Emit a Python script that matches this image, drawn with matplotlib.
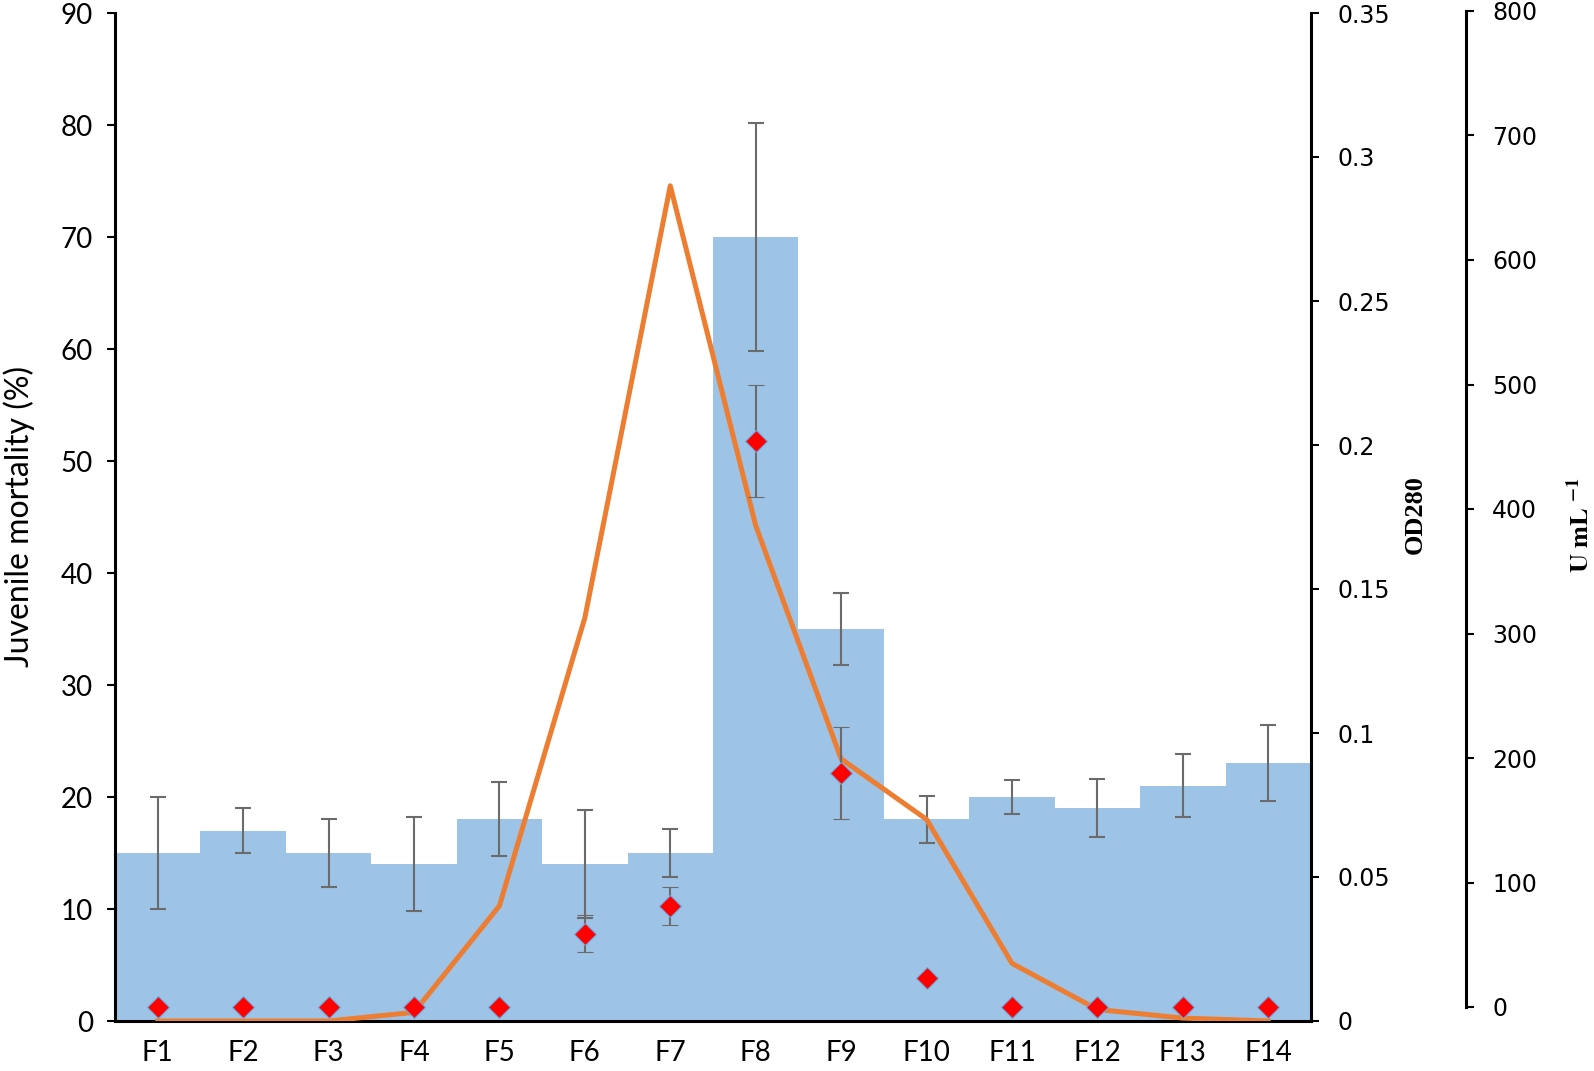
import numpy as np
import matplotlib.pyplot as plt
from matplotlib.ticker import FuncFormatter

# data
fractions = ["F1", "F2", "F3", "F4", "F5", "F6", "F7",
             "F8", "F9", "F10", "F11", "F12", "F13", "F14"]
mortality = [15, 17, 15, 14, 18, 14, 15, 70, 35, 18, 20, 19, 21, 23]
mortality_err = [5, 2, 3, 4.2, 3.3, 4.8, 2.1, 10.2, 3.2, 2.1, 1.5, 2.6, 2.8, 3.4]
od280 = [0, 0, 0, 0.003, 0.04, 0.14, 0.29, 0.172, 0.091, 0.07, 0.02, 0.004, 0.001, 0]
activity = [0, 0, 0, 0, 0, 59, 81, 455, 188, 23, 0, 0, 0, 0]
activity_err = [0, 0, 0, 0, 0, 15, 15, 45, 37, 0, 0, 0, 0, 0]

W, H = 1594, 1071
SPINE_W = 2.2
TICK_LEN = 5.8
TICK_W = 1.5

plt.rcParams["mathtext.fontset"] = "stix"
fig = plt.figure(figsize=(W / 100, H / 100), dpi=100)

# main axes (pixel box: x 115..1311, y 13..1021)
ax = fig.add_axes([115 / W, 1 - 1021 / H, 1196 / W, 1008 / H])
x = np.arange(len(fractions))

ax.bar(x, mortality, width=1.0, color="#9DC3E6", zorder=1)
ax.errorbar(x, mortality, yerr=mortality_err, fmt="none", ecolor="#6B6B6B",
            elinewidth=1.5, capsize=6, capthick=1.5, zorder=2)
ax.set_xlim(-0.5, len(fractions) - 0.5)
ax.set_ylim(0, 90)
ax.set_yticks(np.arange(0, 91, 10))
ax.set_xticks(x)
ax.set_xticklabels(fractions, fontfamily="Lato", fontsize=20)
for lab in ax.get_yticklabels():
    lab.set_fontfamily("Lato")
    lab.set_fontsize(20)
ax.tick_params(axis="y", direction="out", length=TICK_LEN, width=TICK_W, pad=10)
ax.tick_params(axis="x", length=0, pad=14)
for s in ["top", "right"]:
    ax.spines[s].set_visible(False)
for s in ["left", "bottom"]:
    ax.spines[s].set_linewidth(SPINE_W)

# OD280 axis
ax2 = ax.twinx()
ax2.plot(x, od280, color="#ED7D31", linewidth=3.6, zorder=3)
ax2.set_ylim(0, 0.35)
ax2.set_yticks(np.arange(0, 0.351, 0.05))
ax2.yaxis.set_major_formatter(FuncFormatter(lambda v, p: "%g" % round(v, 2)))
for s in ["top", "left", "bottom"]:
    ax2.spines[s].set_visible(False)
ax2.spines["right"].set_linewidth(SPINE_W)
ax2.tick_params(axis="y", direction="out", length=TICK_LEN, width=TICK_W, pad=13,
                labelsize=17)

# U mL-1 axis (slightly shorter box, spine moved out to the right)
ax3 = fig.add_axes([115 / W, 1 - 1007 / H, 1196 / W, 996 / H])
ax3.patch.set_visible(False)
eb = ax3.errorbar(x, activity, yerr=activity_err, fmt="D", color="#FF0000",
                  markersize=11, markeredgecolor="#6FA8DC", markeredgewidth=0.8,
                  ecolor="#6B6B6B", elinewidth=1.5, capsize=6, capthick=1.5, zorder=4)
eb[0].set_clip_on(False)
for art in eb[1]:
    art.set_clip_on(False)
ax3.set_xlim(-0.5, len(fractions) - 0.5)
ax3.set_ylim(0, 800)
ax3.set_yticks(np.arange(0, 801, 100))
ax3.xaxis.set_visible(False)
ax3.yaxis.tick_right()
for s in ["top", "left", "bottom"]:
    ax3.spines[s].set_visible(False)
ax3.spines["right"].set_position(("axes", (1466 - 115) / 1196))
ax3.spines["right"].set_linewidth(SPINE_W)
ax3.tick_params(axis="y", direction="out", length=TICK_LEN, width=TICK_W, pad=13,
                labelsize=17)

# axis titles
fig.text(19.5 / W, 1 - 516 / H, "Juvenile mortality (%)", rotation=90,
         ha="center", va="center", fontfamily="Lato", fontsize=23)
fig.text(1415 / W, 1 - 515 / H, "OD280", rotation=90, ha="center", va="center",
         fontfamily="Liberation Serif", fontweight="bold", fontsize=19)
fig.text(1581 / W, 1 - 525 / H, r"$\mathbf{U\ mL\ ^{-1}}$", rotation=90,
         ha="center", va="center", fontsize=19)

fig.savefig("out.png", dpi=100)
